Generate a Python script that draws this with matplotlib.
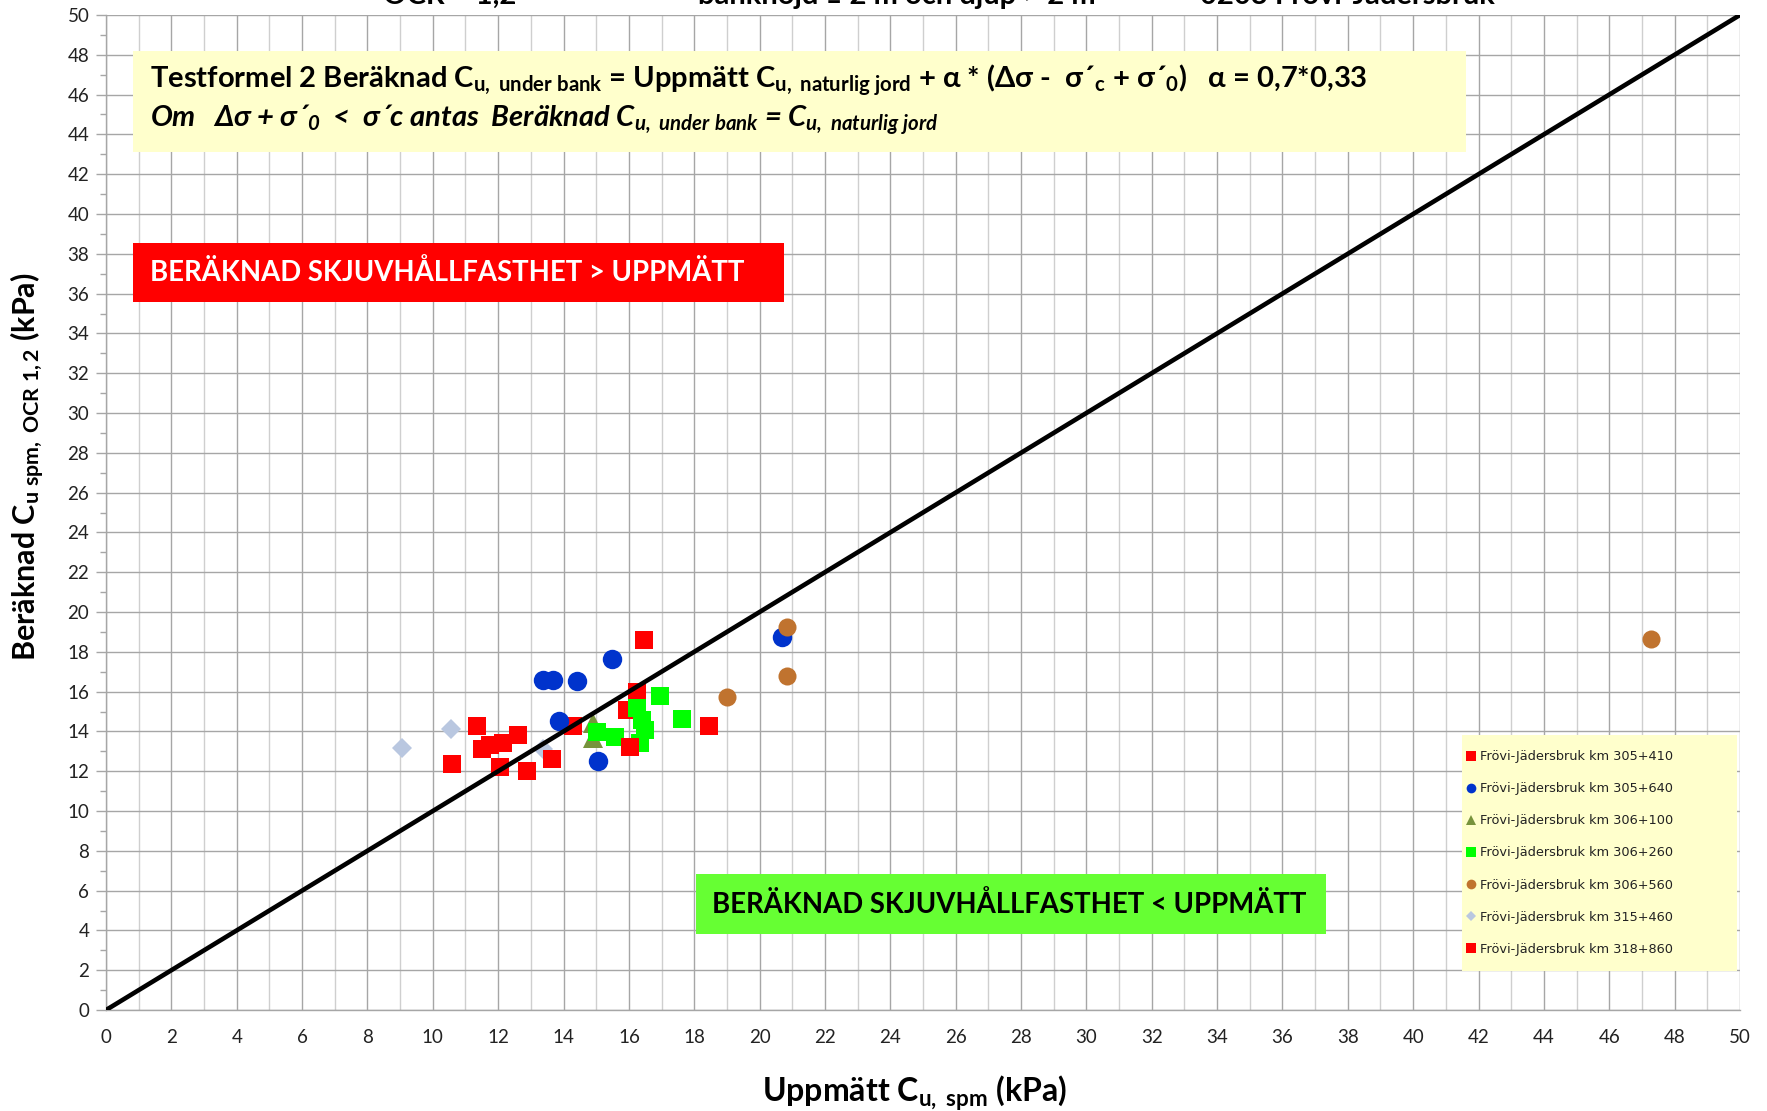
import matplotlib
matplotlib.use("Agg")
import matplotlib.pyplot as plt
from matplotlib.lines import Line2D
from matplotlib.ticker import MultipleLocator

plt.rcParams['font.family'] = ['Lato', 'DejaVu Sans']
plt.rcParams['mathtext.fontset'] = 'custom'
plt.rcParams['mathtext.rm'] = 'Lato'
plt.rcParams['mathtext.bf'] = 'Lato:bold'
plt.rcParams['mathtext.it'] = 'Lato:italic'
plt.rcParams['mathtext.bfit'] = 'Lato:italic:bold'

# ---- data ----
labels = ["Frövi-Jädersbruk km 305+410", "Frövi-Jädersbruk km 305+640",
          "Frövi-Jädersbruk km 306+100", "Frövi-Jädersbruk km 306+260",
          "Frövi-Jädersbruk km 306+560", "Frövi-Jädersbruk km 315+460",
          "Frövi-Jädersbruk km 318+860"]

x_305_410 = [16.46, 16.26, 15.93, 11.34, 12.16, 12.62, 14.30]
y_305_410 = [18.59, 16.00, 15.08, 14.29, 13.43, 13.82, 14.27]

x_305_640 = [13.38, 13.69, 14.42, 15.49, 13.87, 15.06, 20.70]
y_305_640 = [16.58, 16.58, 16.53, 17.64, 14.54, 12.53, 18.76]

x_306_100 = [14.91, 14.91]
y_306_100 = [14.40, 13.65]

x_306_260 = [15.03, 15.57, 16.95, 16.24, 16.39, 16.49, 16.34, 17.64]
y_306_260 = [13.99, 13.74, 15.78, 15.16, 14.57, 14.07, 13.40, 14.60]

x_306_560 = [18.99, 20.85, 20.85, 47.28]
y_306_560 = [15.71, 19.26, 16.78, 18.64]

x_315_460 = [9.05, 10.55, 13.38]
y_315_460 = [13.15, 14.10, 13.10]

x_318_860 = [10.58, 11.51, 11.75, 12.05, 12.87, 13.64, 16.03, 18.45]
y_318_860 = [12.36, 13.10, 13.32, 12.20, 12.03, 12.61, 13.23, 14.29]

line_x = [0, 50]
line_y = [0, 50]

xticks = list(range(0, 51, 2))
yticks = list(range(0, 51, 2))

# ---- figure ----
fig = plt.figure(figsize=(17.67, 11.11), dpi=100)
ax = fig.add_axes([0.060, 0.0909, 0.9247, 0.8956])

series = [
    (x_305_410, y_305_410, 's', '#FF0000', 13.5),
    (x_305_640, y_305_640, 'o', '#0033CC', 14),
    (x_306_100, y_306_100, '^', '#77933C', 14),
    (x_306_260, y_306_260, 's', '#00FF00', 13.5),
    (x_306_560, y_306_560, 'o', '#C0732F', 13),
    (x_315_460, y_315_460, 'D', '#B9C7E0', 10),
    (x_318_860, y_318_860, 's', '#FF0000', 13.5),
]
handles = []
for (xs, ys, m, c, ms), lab in zip(series, labels):
    ax.plot(xs, ys, linestyle='none', marker=m, color=c, markersize=ms,
            markeredgewidth=0, zorder=3)
    handles.append(Line2D([], [], linestyle='none', marker=m, color=c,
                          markersize=7 if m != 'D' else 5.5, markeredgewidth=0))

ax.plot(line_x, line_y, color='black', linewidth=3.3, zorder=4,
        solid_capstyle='butt')

ax.set_xlim(0, 50)
ax.set_ylim(0, 50)
ax.set_xticks(xticks)
ax.set_yticks(yticks)
ax.xaxis.set_minor_locator(MultipleLocator(1))
ax.yaxis.set_minor_locator(MultipleLocator(1))
ax.grid(True, which='major', color='#A6A6A6', linewidth=1.0, zorder=0)
ax.grid(True, which='minor', axis='x', color='#CFCFCF', linewidth=1.0, zorder=0)
ax.set_axisbelow(True)
for s in ['top', 'right']:
    ax.spines[s].set_visible(False)
for s in ['left', 'bottom']:
    ax.spines[s].set_color('#A6A6A6')
    ax.spines[s].set_linewidth(1.0)
ax.tick_params(axis='x', which='both', length=0, pad=14, labelsize=13.5,
               labelcolor='#222222')
ax.tick_params(axis='y', which='major', length=7, width=1, color='#A6A6A6',
               pad=5, labelsize=13.5, labelcolor='#222222')
ax.tick_params(axis='y', which='minor', length=4, width=1, color='#A6A6A6')

ax.set_xlabel(r"Uppmätt C$_{\mathbf{u,\ spm}}$ (kPa)", fontsize=23,
              fontweight='bold')
ax.xaxis.set_label_coords(0.495, -0.064)
ax.set_ylabel(r"Beräknad C$_{\mathbf{u\ spm,\ OCR\ 1,2}}$ (kPa)", fontsize=22,
              fontweight='bold')
ax.yaxis.set_label_coords(-0.036, 0.546)

# top (cropped) title fragments
for tx, tt in [(0.217, "OCR = 1,2"), (0.395, "bankhöjd ≥ 2 m och djup > 2 m"),
               (0.679, "0203 Frövi-Jädersbruk")]:
    fig.text(tx, 0.9962, tt, fontsize=21, fontweight='bold', ha='left',
             va='baseline')

# formula box
ax.add_patch(plt.Rectangle((0.83, 43.1), 40.8, 5.1, facecolor='#FFFFCC',
                           edgecolor='none', zorder=5))
ax.text(1.35, 46.75,
        r"Testformel 2 Beräknad C$_{\mathbf{u,\ under\ bank}}$ = Uppmätt "
        r"C$_{\mathbf{u,\ naturlig\ jord}}$ + α * (Δσ -  σ´$_{\mathbf{c}}$ + σ´$_{\mathbf{0}}$)   α = 0,7*0,33",
        fontsize=21, fontweight='bold', va='center', ha='left', zorder=6)
ax.text(1.35, 44.75,
        r"Om   Δσ + σ´$_{\mathbfit{0}}$  <  σ´c antas  Beräknad C$_{\mathbfit{u,\ under\ bank}}$ = "
        r"C$_{\mathbfit{u,\ naturlig\ jord}}$",
        fontsize=21, fontweight='bold', fontstyle='italic', va='center',
        ha='left', zorder=6)

# red box
ax.add_patch(plt.Rectangle((0.83, 35.6), 19.92, 2.95, facecolor='#FF0000',
                           edgecolor='none', zorder=5))
ax.text(1.35, 37.07, "BERÄKNAD SKJUVHÅLLFASTHET > UPPMÄTT", color='white',
        fontsize=19.8, fontweight='bold', va='center', ha='left', zorder=6)

# green box
ax.add_patch(plt.Rectangle((18.05, 3.82), 19.28, 3.0, facecolor='#66FF33',
                           edgecolor='none', zorder=5))
ax.text(18.55, 5.32, "BERÄKNAD SKJUVHÅLLFASTHET < UPPMÄTT", color='black',
        fontsize=19.8, fontweight='bold', va='center', ha='left', zorder=6)

# legend background + legend
ax.add_patch(plt.Rectangle((0.8299, 0.0392), 0.1681, 0.2372,
                           transform=ax.transAxes, facecolor='#FFFFCC',
                           edgecolor='none', zorder=5))
leg = ax.legend(handles, labels, loc='center left',
                bbox_to_anchor=(0.8299, 0.1578),
                prop={'family': 'DejaVu Sans', 'size': 9.25}, frameon=False,
                handlelength=0.8, handletextpad=0.3,
                labelspacing=1.49, borderpad=0.3, borderaxespad=0)
leg.set_zorder(6)
for t in leg.get_texts():
    t.set_color('#222222')

fig.savefig("out.png", dpi=100)
